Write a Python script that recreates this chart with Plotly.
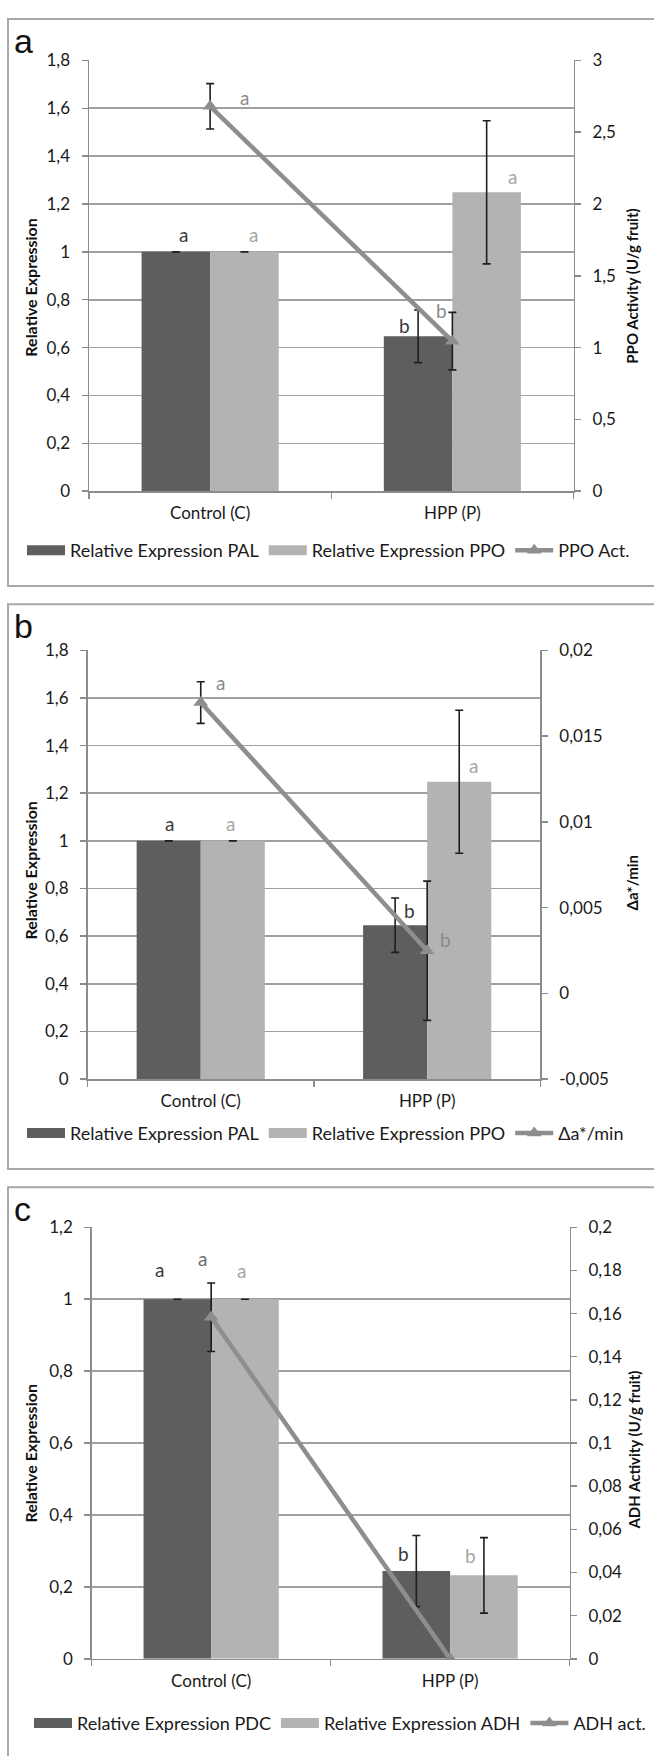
import plotly.graph_objects as go

W, H = 654, 1756

# ---------------- data ----------------
categories = ["Control (C)", "HPP (P)"]

# panel a
a_pal = [1.0, 0.647]
a_pal_err = [0.0, 0.110]
a_ppo = [1.0, 1.249]
a_ppo_err = [0.0, 0.299]
a_act = [2.68, 1.045]
a_act_err = [0.158, 0.20]

# panel b
b_pal = [1.0, 0.646]
b_pal_err = [0.0, 0.114]
b_ppo = [1.0, 1.248]
b_ppo_err = [0.0, 0.30]
b_da = [0.01695, 0.00248]
b_da_err = [0.00121, 0.00406]

# panel c
c_pdc = [1.0, 0.244]
c_pdc_err = [0.0, 0.099]
c_adh = [1.0, 0.232]
c_adh_err = [0.0, 0.105]
c_act = [0.1583, 0.0]
c_act_err = [0.0159, 0.0]

left_ticks_ab = [0, 0.2, 0.4, 0.6, 0.8, 1, 1.2, 1.4, 1.6, 1.8]
left_ticks_c = [0, 0.2, 0.4, 0.6, 0.8, 1, 1.2]
right_ticks_a = [0, 0.5, 1, 1.5, 2, 2.5, 3]
right_ticks_b = [-0.005, 0, 0.005, 0.01, 0.015, 0.02]
right_ticks_b_text = ["-0,005", "0", "0,005", "0,01", "0,015", "0,02"]
right_ticks_c = [0, 0.02, 0.04, 0.06, 0.08, 0.1, 0.12, 0.14, 0.16, 0.18, 0.2]

# ---------------- style ----------------
FONT = "Lato, 'Liberation Sans', sans-serif"
DARK = "#5e5e5e"
LIGHT = "#b3b3b3"
LINEC = "#8e8e8e"
GRID = "#a0a0a0"
AXLINE = "#8c8c8c"
ERRC = "#1e1e1e"
TXT = "#1a1a1a"
TICKSZ = 17


def px_x(p):
    return p / W


def px_y(p):
    return 1 - p / H


fig = go.Figure()

panels = [
    dict(x="x", y="y", y2="y2", legend="legend",
         bars=[("Relative Expression PAL", a_pal, a_pal_err, DARK),
               ("Relative Expression PPO", a_ppo, a_ppo_err, LIGHT)],
         line=("PPO Act.", a_act, a_act_err)),
    dict(x="x2", y="y3", y2="y4", legend="legend2",
         bars=[("Relative Expression PAL", b_pal, b_pal_err, DARK),
               ("Relative Expression PPO", b_ppo, b_ppo_err, LIGHT)],
         line=("\u0394a*/min", b_da, b_da_err)),
    dict(x="x3", y="y5", y2="y6", legend="legend3",
         bars=[("Relative Expression PDC", c_pdc, c_pdc_err, DARK),
               ("Relative Expression ADH", c_adh, c_adh_err, LIGHT)],
         line=("ADH act.", c_act, c_act_err)),
]

for p in panels:
    for name, vals, errs, col in p["bars"]:
        fig.add_trace(go.Bar(
            x=categories, y=vals, name=name, marker=dict(color=col, line=dict(width=0)),
            error_y=dict(type="data", array=errs, color=ERRC, thickness=1.6, width=4),
            xaxis=p["x"], yaxis=p["y"], legend=p["legend"], showlegend=False,
        ))
    # legend entries for the bar series, drawn as wide blocks like the original
    for name, vals, errs, col in p["bars"]:
        fig.add_trace(go.Scatter(
            x=[None], y=[None], name=name, mode="lines", line=dict(color=col, width=11),
            xaxis=p["x"], yaxis=p["y"], legend=p["legend"], hoverinfo="skip",
        ))
    lname, lvals, lerrs = p["line"]
    fig.add_trace(go.Scatter(
        x=categories, y=lvals, name=lname, mode="lines+markers",
        line=dict(color=LINEC, width=4.5),
        marker=dict(symbol="triangle-up", size=13, color=LINEC),
        error_y=dict(type="data", array=lerrs, color=ERRC, thickness=1.6, width=4),
        xaxis=p["x"], yaxis=p["y2"], legend=p["legend"],
    ))

# ---------------- axes ----------------
geo = {
    # left, right, top, bottom (pixels)
    "a": (89, 573.5, 50, 486),
    "b": (87.5, 540.4, 647, 1081),
    "c": (91.7, 569.6, 1231, 1667.7),
}

common_x = dict(type="category", showline=True, linecolor=AXLINE, linewidth=1.5,
                ticks="outside", tickson="boundaries", ticklen=6, tickcolor=AXLINE,
                tickwidth=1.5, showgrid=False, tickfont=dict(family=FONT, size=TICKSZ, color=TXT),
                ticklabelstandoff=6, fixedrange=True)
common_yl = dict(showline=True, linecolor=AXLINE, linewidth=1.5, ticks="outside", ticklen=6,
                 tickcolor=AXLINE, tickwidth=1.5, showgrid=True, gridcolor=GRID, gridwidth=1.6,
                 zeroline=False, tickfont=dict(family=FONT, size=TICKSZ, color=TXT),
                 ticklabelstandoff=8)
common_yr = dict(showline=True, linecolor=AXLINE, linewidth=1.5, ticks="outside", ticklen=6,
                 tickcolor=AXLINE, tickwidth=1.5, showgrid=False, zeroline=False,
                 tickfont=dict(family=FONT, size=TICKSZ, color=TXT), ticklabelstandoff=8,
                 side="right")

L, R, T, B = geo["a"]
fig.update_layout(
    xaxis=dict(domain=[px_x(L), px_x(R)], anchor="y", **common_x),
    yaxis=dict(domain=[px_y(B), px_y(T)], anchor="x", range=[0, 1.8], tickvals=left_ticks_ab, **common_yl),
    yaxis2=dict(overlaying="y", anchor="x", range=[0, 3], tickvals=right_ticks_a, **common_yr),
)
L, R, T, B = geo["b"]
fig.update_layout(
    xaxis2=dict(domain=[px_x(L), px_x(R)], anchor="y3", **common_x),
    yaxis3=dict(domain=[px_y(B), px_y(T)], anchor="x2", range=[0, 1.8], tickvals=left_ticks_ab, **common_yl),
    yaxis4=dict(overlaying="y3", anchor="x2", range=[-0.005, 0.02], tickvals=right_ticks_b,
                ticktext=right_ticks_b_text, **common_yr),
)
L, R, T, B = geo["c"]
fig.update_layout(
    xaxis3=dict(domain=[px_x(L), px_x(R)], anchor="y5", **common_x),
    yaxis5=dict(domain=[px_y(B), px_y(T)], anchor="x3", range=[0, 1.2], tickvals=left_ticks_c, **common_yl),
    yaxis6=dict(overlaying="y5", anchor="x3", range=[0, 0.2], tickvals=right_ticks_c, **common_yr),
)

# ---------------- legends ----------------
leg_common = dict(orientation="h", xanchor="left", yanchor="middle", bgcolor="rgba(0,0,0,0)",
                  font=dict(family=FONT, size=18, color=TXT), itemwidth=38, tracegroupgap=0)
fig.update_layout(
    legend=dict(x=px_x(22), y=px_y(546), **leg_common),
    legend2=dict(x=px_x(22), y=px_y(1136), **leg_common),
    legend3=dict(x=px_x(29), y=px_y(1733), **leg_common),
)

# ---------------- annotations ----------------
ann = []


def letter(xref, yref, x, y, text, color):
    ann.append(dict(xref=xref, yref=yref, x=x, y=y, text=text, showarrow=False,
                    font=dict(family=FONT, size=19, color=color), xanchor="center", yanchor="middle"))


LBL_D, LBL_L, LBL_M = "#3a3a3a", "#a6a6a6", "#8a8a8a"
# panel a
letter("x", "y", -0.110, 1.073, "a", LBL_D)
letter("x", "y", 0.181, 1.073, "a", LBL_L)
letter("x", "y", 0.140, 1.647, "a", LBL_M)
letter("x", "y", 1.248, 1.313, "a", LBL_L)
letter("x", "y", 0.801, 0.694, "b", LBL_D)
letter("x", "y", 0.956, 0.755, "b", LBL_M)
# panel b
letter("x2", "y3", -0.137, 1.074, "a", LBL_D)
letter("x2", "y3", 0.131, 1.074, "a", LBL_L)
letter("x2", "y3", 0.089, 1.663, "a", LBL_M)
letter("x2", "y3", 1.206, 1.315, "a", LBL_L)
letter("x2", "y3", 0.922, 0.709, "b", LBL_D)
letter("x2", "y3", 1.079, 0.585, "b", LBL_M)
# panel c
letter("x3", "y5", -0.216, 1.082, "a", LBL_D)
letter("x3", "y5", -0.035, 1.112, "a", "#6e6e6e")
letter("x3", "y5", 0.128, 1.079, "a", LBL_L)
letter("x3", "y5", 0.804, 0.293, "b", LBL_D)
letter("x3", "y5", 1.086, 0.288, "b", LBL_L)
letter("x3", "y5", 1.177, -0.080, "b", LBL_M)

# panel letters
for t, yc in (("a", 30), ("b", 622), ("c", 1212)):
    ann.append(dict(xref="paper", yref="paper", x=px_x(12), y=px_y(yc), text=t, showarrow=False,
                    font=dict(family="Liberation Sans, Arial, sans-serif", size=34, color="#111111"),
                    xanchor="left", yanchor="middle"))

# axis titles
def vtitle(xc, yc, text, size):
    ann.append(dict(xref="paper", yref="paper", x=px_x(xc), y=px_y(yc), text=text, showarrow=False,
                    textangle=-90, font=dict(family=FONT, size=size, color="#111111", weight="bold"),
                    xanchor="center", yanchor="middle"))


vtitle(31, 280, "Relative Expression", 16)
vtitle(632, 279, "PPO Activity (U/g fruit)", 15)
vtitle(31, 870, "Relative Expression", 16)
vtitle(632, 882, "\u0394a*/min", 15)
vtitle(31, 1460, "Relative Expression", 16)
vtitle(634, 1457, "ADH Activity (U/g fruit)", 15)

# panel borders
shapes = []
for top, bot in ((8, 582), (600.5, 1172), (1190.5, 1800)):
    shapes.append(dict(type="rect", xref="paper", yref="paper", x0=px_x(8), x1=1.05,
                       y0=px_y(bot), y1=px_y(top), line=dict(color="#a8a8a8", width=2),
                       fillcolor="rgba(0,0,0,0)", layer="below"))

fig.update_layout(
    width=W, height=H, margin=dict(l=0, r=0, t=0, b=0),
    paper_bgcolor="white", plot_bgcolor="white",
    barmode="group", bargap=0.434, bargroupgap=0,
    separators=", ", annotations=ann, shapes=shapes,
    font=dict(family=FONT, color=TXT),
)

fig.write_html(
    "out.html",
    config={"displayModeBar": False, "staticPlot": True},
    post_script="document.body.style.margin='0';document.body.style.overflow='hidden';",
)
